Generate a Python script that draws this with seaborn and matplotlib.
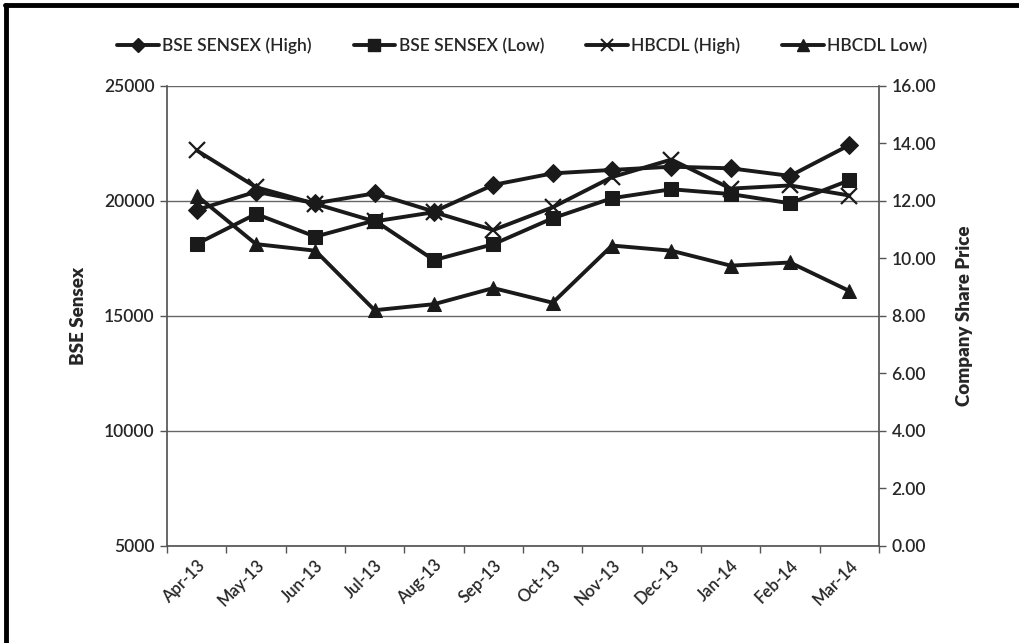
import matplotlib
matplotlib.use("Agg")
import matplotlib.pyplot as plt
import seaborn as sns
import pandas as pd
from matplotlib.lines import Line2D

months = ["Apr-13", "May-13", "Jun-13", "Jul-13", "Aug-13", "Sep-13",
          "Oct-13", "Nov-13", "Dec-13", "Jan-14", "Feb-14", "Mar-14"]
bse_high = [19610, 20400, 19900, 20330, 19540, 20700,
            21200, 21350, 21490, 21420, 21090, 22430]
bse_low = [18130, 19435, 18450, 19150, 17430, 18120,
           19250, 20120, 20510, 20300, 19900, 20900]
hbcdl_high = [13.76, 12.48, 11.90, 11.29, 11.61, 10.99,
              11.78, 12.83, 13.44, 12.43, 12.54, 12.19]
hbcdl_low = [12.19, 10.50, 10.27, 8.20, 8.41, 8.97,
             8.46, 10.45, 10.27, 9.75, 9.86, 8.87]

sns.set_theme(style="white")
plt.rcParams["font.family"] = ["Lato", "DejaVu Sans"]
plt.rcParams["font.weight"] = "semibold"

df = pd.DataFrame({"pos": range(len(months)), "month": months,
                   "bse_high": bse_high, "bse_low": bse_low,
                   "hbcdl_high": hbcdl_high, "hbcdl_low": hbcdl_low})

fig = plt.figure(figsize=(10.2, 6.43), dpi=100)
ax = fig.add_axes([0.1637, 0.1509, 0.6981, 0.7154])
ax2 = ax.twinx()

lw = 2.8
col = "#1a1a1a"
# left axis: BSE Sensex
sns.lineplot(data=df, x="pos", y="bse_high", ax=ax, color=col, lw=lw,
             marker="D", markersize=9, markeredgecolor=col)
sns.lineplot(data=df, x="pos", y="bse_low", ax=ax, color=col, lw=lw,
             marker="s", markersize=10, markeredgecolor=col)
# right axis: company share price
sns.lineplot(data=df, x="pos", y="hbcdl_high", ax=ax2, color=col, lw=lw,
             marker="x", markersize=11, markeredgewidth=1.6, markeredgecolor=col)
sns.lineplot(data=df, x="pos", y="hbcdl_low", ax=ax2, color=col, lw=lw,
             marker="^", markersize=10, markeredgecolor=col)

ax.set_xlim(-0.5, len(months) - 0.5)
ax.set_ylim(5000, 25000)
ax.set_yticks([5000, 10000, 15000, 20000, 25000])
ax2.set_ylim(0, 16)
ax2.set_yticks(range(0, 17, 2))
ax2.set_yticklabels([f"{v:.2f}" for v in range(0, 17, 2)])

ax.set_xticks(range(len(months)))
ax.set_xticklabels(months, rotation=45, ha="right", rotation_mode="anchor")
ax.set_xticks([i - 0.5 for i in range(len(months) + 1)], minor=True)
ax.tick_params(axis="x", which="major", length=0, pad=8, labelsize=12)
ax.tick_params(axis="x", which="minor", length=5, width=1, color="#555555",
               direction="out", bottom=True)
ax.tick_params(axis="y", length=5, width=1, color="#555555", direction="out",
               left=True, labelsize=12.5, pad=4)
ax2.tick_params(axis="y", length=5, width=1, color="#555555", direction="out",
                right=True, labelsize=12.5, pad=4)

ax.yaxis.grid(True, color="#666666", lw=1)
ax.xaxis.grid(False)
for a in (ax, ax2):
    for s in a.spines.values():
        s.set_visible(False)
ax.spines["left"].set_visible(True)
ax.spines["left"].set_color("#555555")
ax2.spines["right"].set_visible(True)
ax2.spines["right"].set_color("#555555")
ax.spines["bottom"].set_visible(True)
ax.spines["bottom"].set_color("#555555")

ax.set_xlabel("")
ax.set_ylabel("BSE Sensex", fontsize=13.5, fontweight="heavy", labelpad=12)
ax2.set_ylabel("Company Share Price", fontsize=13.5, fontweight="heavy", labelpad=14)

handles = [
    Line2D([], [], color=col, lw=lw, marker="D", markersize=7),
    Line2D([], [], color=col, lw=lw, marker="s", markersize=8),
    Line2D([], [], color=col, lw=lw, marker="x", markersize=9, markeredgewidth=1.4),
    Line2D([], [], color=col, lw=lw, marker="^", markersize=8),
]
labels = ["BSE SENSEX (High)", "BSE SENSEX (Low)", "HBCDL (High)", "HBCDL Low)"]
fig.legend(handles, labels, loc="center", bbox_to_anchor=(0.512, 0.929), ncol=4,
           frameon=False, fontsize=12.5, handlelength=2.4, handletextpad=0.2,
           columnspacing=2.4)

# black frame on the top and left edges
fig.add_artist(Line2D([0.005, 1.0], [0.992, 0.992], transform=fig.transFigure,
                      color="black", lw=3.5))
fig.add_artist(Line2D([0.006, 0.006], [0.0, 0.992], transform=fig.transFigure,
                      color="black", lw=3.5))

fig.savefig("out.png", dpi=100)
